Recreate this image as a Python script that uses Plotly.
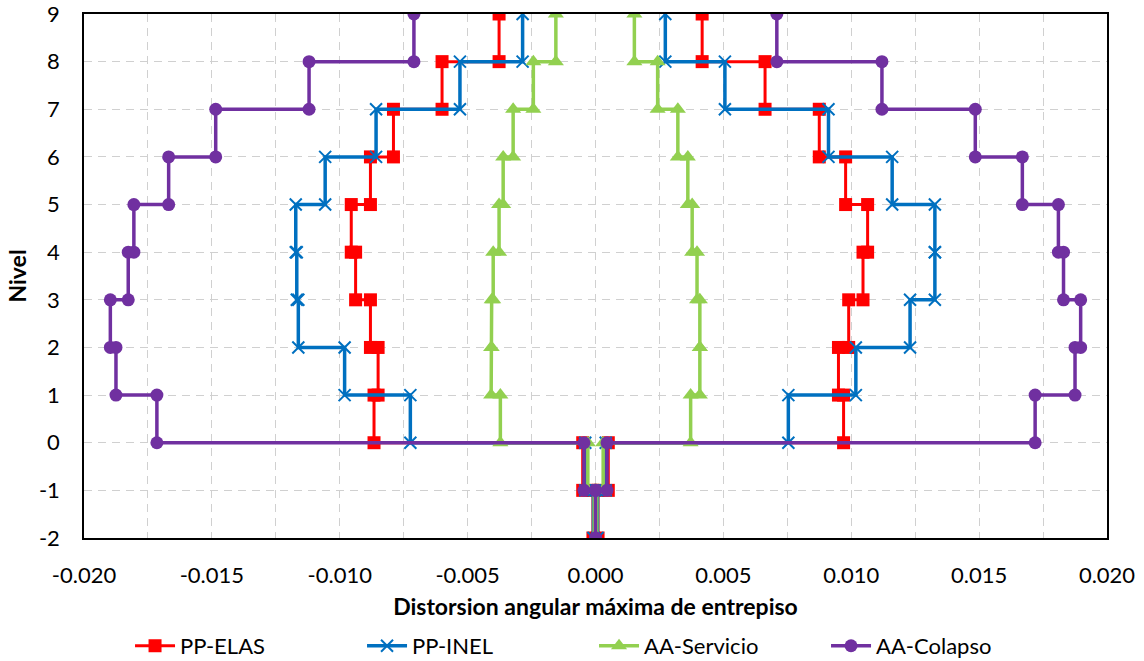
import plotly.graph_objects as go

# Stories: story k spans from level k-1 to level k
stories = [-1, 0, 1, 2, 3, 4, 5, 6, 7, 8, 9]

pp_elas_left = [-0.0001, -0.0005, -0.00866, -0.0085, -0.0088, -0.00938, -0.00955, -0.0088, -0.0079, -0.0060, -0.00377]
pp_elas_right = [0.0001, 0.0005, 0.0097, 0.0095, 0.0099, 0.01046, 0.01064, 0.00978, 0.00875, 0.00663, 0.00417]

pp_inel_left = [-0.00008, -0.0004, -0.00724, -0.00981, -0.01162, -0.01168, -0.01172, -0.01057, -0.00858, -0.0053, -0.00285]
pp_inel_right = [0.00008, 0.0004, 0.00754, 0.01018, 0.0123, 0.01327, 0.01327, 0.0116, 0.00911, 0.00506, 0.00273]

aa_serv_left = [-0.00005, -0.0003, -0.00372, -0.00408, -0.00406, -0.0040, -0.00377, -0.00361, -0.00322, -0.00243, -0.00155]
aa_serv_right = [0.00005, 0.0003, 0.00372, 0.00408, 0.00408, 0.00397, 0.00378, 0.00361, 0.00322, 0.00243, 0.00152]

aa_col_left = [0.0, -0.00045, -0.01715, -0.01875, -0.01897, -0.01827, -0.01805, -0.01669, -0.01485, -0.0112, -0.0071]
aa_col_right = [0.0, 0.00045, 0.01719, 0.01875, 0.01897, 0.0183, 0.0181, 0.01669, 0.01485, 0.0112, 0.00709]

x_ticks = [-0.020, -0.015, -0.010, -0.005, 0.000, 0.005, 0.010, 0.015, 0.020]
y_ticks = [-2, -1, 0, 1, 2, 3, 4, 5, 6, 7, 8, 9]


def step_path(left, right):
    xs, ys = [], []
    # left side, from top down
    for k, v in sorted(zip(stories, left), reverse=True):
        xs += [v, v]
        ys += [k, k - 1]
    # right side, from bottom up
    for k, v in sorted(zip(stories, right)):
        xs += [v, v]
        ys += [k - 1, k]
    return xs, ys


series = [
    ("PP-ELAS", pp_elas_left, pp_elas_right, "#FF0000", dict(symbol="square", size=13), 3),
    ("PP-INEL", pp_inel_left, pp_inel_right, "#0070C0", dict(symbol="x-thin", size=12, line=dict(width=2, color="#0070C0")), 3.5),
    ("AA-Servicio", aa_serv_left, aa_serv_right, "#92D050", dict(symbol="triangle-up", size=14), 3.5),
    ("AA-Colapso", aa_col_left, aa_col_right, "#7030A0", dict(symbol="circle", size=13), 3.5),
]

FONT = "Lato, 'Open Sans', sans-serif"

fig = go.Figure()
for name, lf, rt, col, mk, lw in series:
    xs, ys = step_path(lf, rt)
    mk = dict(mk)
    mk["color"] = col
    fig.add_trace(go.Scatter(x=xs, y=ys, name=name, mode="lines+markers",
                             line=dict(color=col, width=lw), marker=mk))

grid_col = "#D0D0D0"
fig.update_layout(
    width=1144, height=661,
    margin=dict(l=84, r=37, t=14, b=123, autoexpand=False),
    paper_bgcolor="white", plot_bgcolor="white",
    font=dict(family=FONT, size=22, color="black"),
    showlegend=True,
    legend=dict(orientation="h", x=0.045, xanchor="left", y=-0.206, yanchor="middle",
                entrywidth=177, entrywidthmode="pixels", font=dict(size=22),
                itemsizing="trace", itemwidth=40),
    xaxis=dict(range=[-0.02, 0.02], tickvals=x_ticks, ticktext=[f"{v:.3f}" for v in x_ticks],
               showgrid=True, gridcolor=grid_col, griddash="8px,6px", gridwidth=1,
               minor=dict(dtick=0.0025, tick0=0, showgrid=True, gridcolor=grid_col, griddash="8px,6px"),
               showline=True, linecolor="black", linewidth=1.5, mirror=True,
               zeroline=False, ticks="", ticklabelstandoff=17, ticklabeloverflow="allow",
               title=dict(text="<b>Distorsion angular máxima de entrepiso</b>", standoff=12,
                          font=dict(size=23)),
               automargin=False),
    yaxis=dict(range=[-2, 9], tickvals=y_ticks, ticktext=[str(v) for v in y_ticks],
               showgrid=True, gridcolor=grid_col, griddash="8px,6px", gridwidth=1,
               showline=True, linecolor="black", linewidth=1.5, mirror=True,
               zeroline=False, ticks="", ticklabelstandoff=18, ticklabeloverflow="allow",
               title=dict(text="<b>Nivel</b>", standoff=6, font=dict(size=23)),
               automargin=False),
)

fig.write_html("out.html", config={"displayModeBar": False},
               post_script="document.body.style.margin='0px';")
